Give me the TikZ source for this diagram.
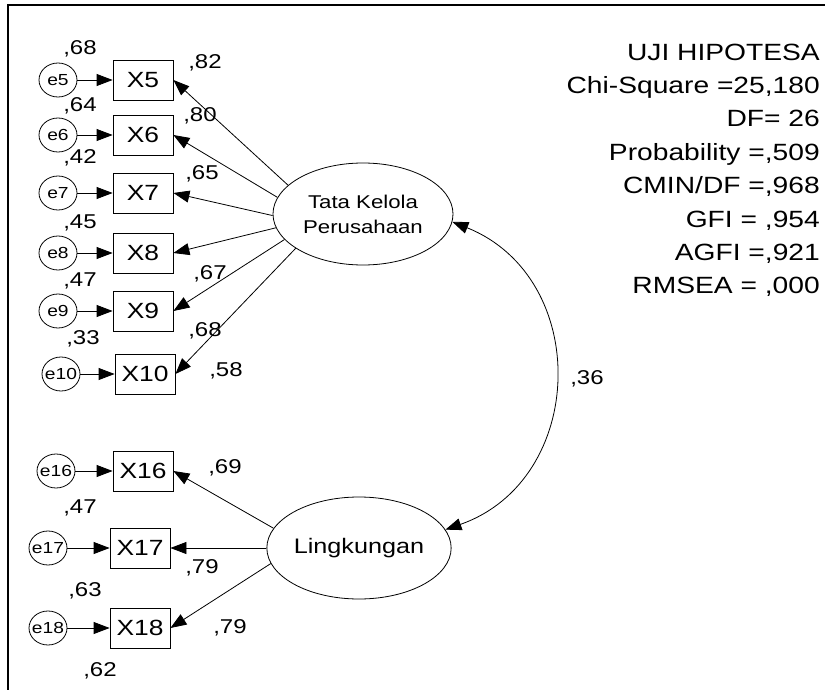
\documentclass[tikz,border=0pt]{standalone}
\usepackage{fontspec}
\setmainfont{Liberation Sans}[FakeStretch=1.2]
\usetikzlibrary{shapes.geometric,arrows.meta}

\tikzset{
  tip/.tip={Triangle[length=16pt,width=12pt]},
  errnode/.style={draw, ellipse, line width=0.8pt, minimum width=38pt, minimum height=34pt,
    inner xsep=-7pt, inner ysep=0pt, font=\fontsize{16}{18}\selectfont},
  obsnode/.style={draw, rectangle, line width=0.8pt, minimum width=60pt, minimum height=40pt,
    inner sep=0pt, font=\fontsize{22}{26}\selectfont},
  latnode/.style={draw, ellipse, line width=0.8pt, minimum width=180pt, minimum height=102pt,
    inner sep=0pt, align=center},
  coef/.style={inner sep=0pt, font=\fontsize{20}{24}\selectfont},
  fitline/.style={inner sep=0pt, anchor=base east, font=\fontsize{23.5}{26}\selectfont},
  link/.style={draw, line width=0.8pt, -tip},
}

\begin{document}
\begin{tikzpicture}[x=1pt,y=-1pt]
\useasboundingbox (0,0) rectangle (825,690);

% frame
\draw[line width=2pt] (8,690) -- (8,5) -- (825,5);

% latent variables
\node[latnode, font=\fontsize{18.5}{25}\selectfont] (tk) at (363,214) {Tata Kelola\\Perusahaan};
\node[latnode, font=\fontsize{21}{25}\selectfont] (lk) at (359,548) {Lingkungan};

% indicators of Tata Kelola Perusahaan
\node[obsnode] (x5)  at (143,80)  {X5};
\node[obsnode] (x6)  at (143,135) {X6};
\node[obsnode] (x7)  at (143,193) {X7};
\node[obsnode] (x8)  at (143,253) {X8};
\node[obsnode] (x9)  at (143,311) {X9};
\node[obsnode] (x10) at (145,374) {X10};

\node[errnode] (e5)  at (58,80)  {e5};
\node[errnode] (e6)  at (58,135) {e6};
\node[errnode] (e7)  at (58,193) {e7};
\node[errnode] (e8)  at (58,253) {e8};
\node[errnode] (e9)  at (58,311) {e9};
\node[errnode] (e10) at (61,374) {e10};

% indicators of Lingkungan
\node[obsnode] (x16) at (143,471) {X16};
\node[obsnode] (x17) at (140,548) {X17};
\node[obsnode] (x18) at (140,628) {X18};

\node[errnode] (e16) at (56,471) {e16};
\node[errnode] (e17) at (48,548) {e17};
\node[errnode] (e18) at (48,628) {e18};

% error paths
\foreach \i in {5,6,7,8,9,10,16,17,18}
  \draw[link] (e\i) -- (x\i);

% loadings
\draw[link] (tk.159) -- (x5.east);
\draw[link] (tk.169) -- (x6.east);
\draw[link] (tk.181) -- (x7.east);
\draw[link] (tk.189) -- (x8.east);
\draw[link] (tk.198) -- (x9.east);
\draw[link] (tk.207) -- (x10.east);
\draw[link] (lk.167) -- (x16.east);
\draw[link] (lk.180) -- (x17.east);
\draw[link] (lk.190) -- (x18.east);

% covariance
\draw[line width=0.8pt, tip-tip] (tk.-5) .. controls (592,278) and (587,480) .. (lk.12);

% coefficients
\node[coef] (r5)  at (80,49)   {,68};
\node[coef] (l5)  at (205,63)  {,82};
\node[coef] (r6)  at (80,106)  {,64};
\node[coef] (l6)  at (200,116) {,80};
\node[coef] (r7)  at (80,158)  {,42};
\node[coef] (l7)  at (202,174) {,65};
\node[coef] (r8)  at (80,223)  {,45};
\node[coef] (l8)  at (210,274) {,67};
\node[coef] (r9)  at (80,281)  {,47};
\node[coef] (l9)  at (205,331) {,68};
\node[coef] (r10) at (83,339)  {,33};
\node[coef] (l10) at (226,371) {,58};
\node[coef] (l16) at (225,468) {,69};
\node[coef] (r16) at (80,508)  {,47};
\node[coef] (l17) at (202,568) {,79};
\node[coef] (r17) at (85,591)  {,63};
\node[coef] (l18) at (230,628) {,79};
\node[coef] (r18) at (100,671) {,62};
\node[coef] (cov) at (587,379) {,36};

% fit statistics
\node[fitline] (s1) at (820,60.5)  {UJI HIPOTESA};
\node[fitline] (s2) at (820,94)    {Chi-Square =25,180};
\node[fitline] (s3) at (820,127)   {DF= 26};
\node[fitline] (s4) at (820,160.5) {Probability =,509};
\node[fitline] (s5) at (820,193.5) {CMIN/DF =,968};
\node[fitline] (s6) at (820,227)   {GFI = ,954};
\node[fitline] (s7) at (820,260)   {AGFI =,921};
\node[fitline] (s8) at (820,293.5) {RMSEA = ,000};
\end{tikzpicture}
\end{document}
